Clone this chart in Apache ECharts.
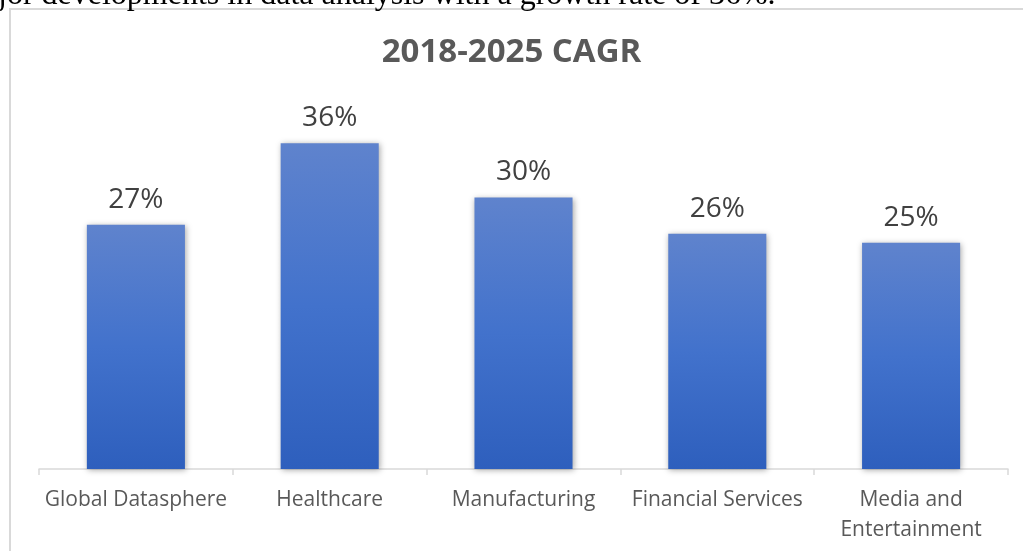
<!DOCTYPE html>
<html>
<head>
<meta charset="utf-8">
<script src="https://cdn.jsdelivr.net/npm/echarts@6/dist/echarts.min.js"></script>
<style>
  html, body { margin: 0; padding: 0; background: #fff; }
  #chart { width: 1023px; height: 551px; }
</style>
</head>
<body>
<div id="chart"></div>
<script>
// 数据
var categories = ['Global Datasphere', 'Healthcare', 'Manufacturing', 'Financial Services', 'Media and\nEntertainment'];
var cagr = [27, 36, 30, 26, 25];
var titleText = '2018-2025 CAGR';
var pageLine = 'jor developments in data analysis with a growth rate of 36%.';

window.onload = function () {
    var myChart = echarts.init(document.getElementById('chart'));

    var option = {
        backgroundColor: '#fff',
        animation: false,
        title: {
            text: titleText,
            left: 'center',
            top: 31,
            textStyle: {
                fontFamily: 'Open Sans',
                fontWeight: 'bold',
                fontSize: 33,
                color: '#595959'
            }
        },
        graphic: [
            {
                type: 'rect',
                shape: { x: 10, y: 9, width: 1040, height: 600 },
                style: { fill: 'none', stroke: '#d9d9d9', lineWidth: 2 },
                z: 0
            },
            {
                type: 'text',
                left: -2,
                top: -20,
                style: {
                    text: pageLine,
                    fontFamily: 'Liberation Serif',
                    fontSize: 32,
                    fill: '#000'
                }
            }
        ],
        grid: {
            left: 39,
            right: 15,
            top: 107,
            bottom: 82
        },
        xAxis: {
            type: 'category',
            data: categories,
            axisLine: { lineStyle: { color: '#d9d9d9', width: 1.5 } },
            axisTick: { show: true, length: 6, lineStyle: { color: '#d9d9d9', width: 1.5 } },
            axisLabel: {
                fontFamily: 'Open Sans',
                fontSize: 21,
                color: '#595959',
                margin: 16,
                lineHeight: 30,
                interval: 0
            }
        },
        yAxis: {
            type: 'value',
            min: 0,
            max: 40,
            show: false,
            splitLine: { show: false }
        },
        series: [
            {
                name: 'CAGR',
                type: 'bar',
                data: cagr,
                barWidth: '50.6%',
                itemStyle: {
                    color: new echarts.graphic.LinearGradient(0, 0, 0, 1, [
                        { offset: 0, color: '#5f83cd' },
                        { offset: 0.5, color: '#4272cc' },
                        { offset: 1, color: '#2e5fbd' }
                    ]),
                    shadowColor: 'rgba(0,0,0,0.35)',
                    shadowBlur: 6,
                    shadowOffsetX: 1,
                    shadowOffsetY: 1
                },
                label: {
                    show: true,
                    position: 'top',
                    distance: 11,
                    formatter: '{c}%',
                    fontFamily: 'Open Sans',
                    fontSize: 28,
                    color: '#404040'
                }
            }
        ]
    };

    myChart.setOption(option);
};
</script>
</body>
</html>
